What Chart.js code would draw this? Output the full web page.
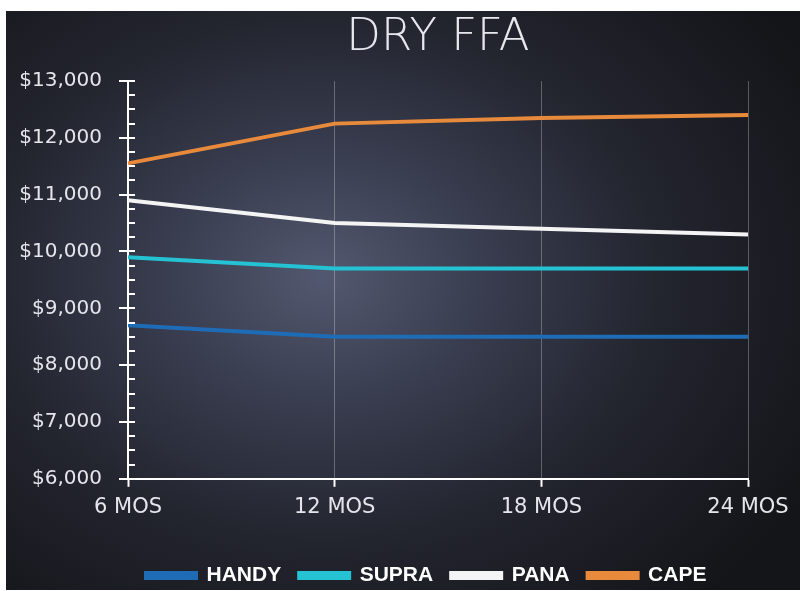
<!DOCTYPE html>
<html>
<head>
<meta charset="utf-8">
<script src="https://cdn.jsdelivr.net/npm/chart.js@4.4.1/dist/chart.umd.min.js"></script>
<style>
    html, body { margin: 0; padding: 0; background: #ffffff; }
    #frame {
        position: absolute; left: 6px; top: 11px; width: 794px; height: 579px;
        background: radial-gradient(ellipse 70% 75% at 40% 46%, #52586f 0%, #383c4e 30%, #23252f 60%, #141519 100%);
    }
</style>
</head>
<body>
<div id="frame"><canvas id="ffaChart" width="794" height="579"></canvas></div>
<script>
// chart values
const periods = ['6 MOS', '12 MOS', '18 MOS', '24 MOS'];
const handy = [8700, 8500, 8500, 8500];
const supra = [9900, 9700, 9700, 9700];
const pana = [10900, 10500, 10400, 10300];
const cape = [11550, 12250, 12350, 12400];
const yTicks = [6000, 7000, 8000, 9000, 10000, 11000, 12000, 13000];

// minor / crossing tick marks on the value axis
const axisTicks = {
    id: 'axisTicks',
    afterDraw(chart) {
        const y = chart.scales.y;
        const ctx = chart.ctx;
        const x0 = y.right;
        ctx.save();
        ctx.strokeStyle = '#ffffff';
        ctx.lineWidth = 2;
        for (let v = yTicks[0]; v <= yTicks[yTicks.length - 1]; v += 250) {
            const py = Math.round(y.getPixelForValue(v));
            const major = yTicks.includes(v);
            ctx.beginPath();
            ctx.moveTo(major ? x0 - 9 : x0, py);
            ctx.lineTo(x0 + 7, py);
            ctx.stroke();
        }
        ctx.restore();
    }
};

const makeSet = (label, data, color) => ({
    label: label,
    data: data,
    borderColor: color,
    backgroundColor: color,
    borderWidth: 4,
    pointRadius: 0,
    tension: 0
});

const ctx = document.getElementById('ffaChart').getContext('2d');
const ffaChart = new Chart(ctx, {
    type: 'line',
    data: {
        labels: periods,
        datasets: [
            makeSet('HANDY', handy, '#1f6cb6'),
            makeSet('SUPRA', supra, '#25c2d4'),
            makeSet('PANA', pana, '#f4f4f4'),
            makeSet('CAPE', cape, '#e88a3c')
        ]
    },
    options: {
        responsive: false,
        animation: false,
        layout: { padding: { left: 0, right: 52, top: 0, bottom: -6 } },
        plugins: {
            title: {
                display: true,
                fullSize: false,
                text: 'DRY FFA',
                color: '#e6e8ee',
                font: { family: "'DejaVu Sans', sans-serif", size: 45, weight: '200' },
                padding: { top: 0, bottom: 16 }
            },
            legend: {
                position: 'bottom',
                fullSize: false,
                align: 'start',
                labels: {
                    color: '#ffffff',
                    boxWidth: 50,
                    boxHeight: 5,
                    padding: 18,
                    font: { family: "'Liberation Sans', sans-serif", size: 21, weight: 'bold' }
                }
            },
            tooltip: { enabled: false }
        },
        scales: {
            x: {
                afterFit: (scale) => { scale.height += 19; },
                border: { color: '#ffffff', width: 2 },
                grid: {
                    color: (c) => c.index === 0 ? 'rgba(0,0,0,0)' : 'rgba(255,255,255,0.28)',
                    lineWidth: 1,
                    tickLength: 8,
                    tickColor: '#ffffff',
                    tickWidth: 2
                },
                ticks: {
                    color: '#e4e6ec',
                    padding: 8,
                    font: { family: "'DejaVu Sans', sans-serif", size: 21 }
                }
            },
            y: {
                min: 6000,
                max: 13000,
                afterFit: (scale) => { scale.width = 122; },
                border: { color: '#ffffff', width: 2 },
                grid: { drawOnChartArea: false, drawTicks: false },
                ticks: {
                    stepSize: 1000,
                    color: '#e4e6ec',
                    padding: 26,
                    font: { family: "'DejaVu Sans', sans-serif", size: 20 },
                    callback: (v) => '$' + v.toLocaleString('en-US')
                }
            }
        }
    },
    plugins: [axisTicks]
});
</script>
</body>
</html>
